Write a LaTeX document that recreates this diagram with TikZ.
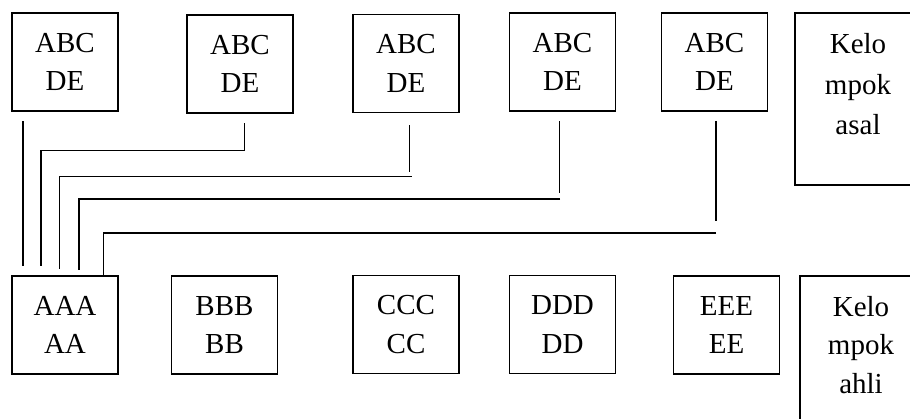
\documentclass[tikz,border=0pt]{standalone}
\usepackage{fontspec}
\setmainfont{Liberation Serif}
\usetikzlibrary{calc}
\begin{document}
\begin{tikzpicture}[x=1pt,y=-1pt,
  box/.style={draw, line width=1.6pt, minimum width=106pt, minimum height=98pt,
    inner sep=0pt, align=center, font=\fontsize{29}{38.5}\selectfont},
  tallbox/.style={draw, line width=1.6pt, minimum width=126pt, inner sep=0pt},
  txt/.style={inner sep=0pt, align=center, anchor=north},
  link/.style={line width=1.6pt}]
\clip (0,0) rectangle (910,419);
\fill[white] (0,0) rectangle (910,419);

% home groups (top row)
\node[box] (t1) at (65,62)    {ABC\\DE};
\node[box] (t2) at (240,64)   {ABC\\DE};
\node[box] (t3) at (406,63.5) {ABC\\DE};
\node[box] (t4) at (562.5,62) {ABC\\DE};
\node[box] (t5) at (714.5,62) {ABC\\DE};
\node[tallbox, minimum height=172pt] (asal) at (858,99) {};
\node[txt, font=\fontsize{29}{40.5}\selectfont] (asaltxt) at (858,33.5) {Kelo\\mpok\\asal};

% expert groups (bottom row)
\node[box] (b1) at (65,325)    {AAA\\AA};
\node[box] (b2) at (224.5,325) {BBB\\BB};
\node[box] (b3) at (406,324.5) {CCC\\CC};
\node[box] (b4) at (562.5,324.5) {DDD\\DD};
\node[box] (b5) at (726.5,325) {EEE\\EE};
\node[tallbox, minimum height=170pt] (ahli) at (863,361) {};
\node[txt, font=\fontsize{29}{38.5}\selectfont] (ahlitxt) at (861,296) {Kelo\\mpok\\ahli};

% connectors from each home group down to the first expert group
\coordinate (e1) at ($(b1.north west)+(12,-9.3)$);
\coordinate (e2) at ($(b1.north west)+(29.7,-9.3)$);
\coordinate (e3) at ($(b1.north west)+(48.3,-6)$);
\coordinate (e4) at ($(b1.north west)+(68,-5.3)$);
\coordinate (e5) at ($(b1.north west)+(92.3,0)$);

\coordinate (s1) at ($(t1.south west)+(12,9.7)$);
\draw[link] (s1) -- (e1);

\coordinate (s2) at ($(t2.south)+(4.3,9.7)$);
\draw[link] (s2) |- (e2 |- 0,150.7) -- (e2);

\coordinate (s3) at ($(t3.south)+(3.3,12)$);
\draw[link] (s3) -- ($(s3 |- 0,172)$);
\draw[link] ($(s3 |- 0,176.7)+(2.4,0)$) -- (e3 |- 0,176.7) -- (e3);

\coordinate (s4) at ($(t4.south)+(-3.2,9.7)$);
\draw[link] (s4) -- ($(s4 |- 0,192.7)$);
\draw[link] ($(s4 |- 0,199.3)+(0.7,0)$) -- (e4 |- 0,199.3) -- (e4);

\coordinate (s5) at ($(t5.south)+(1.2,9)$);
\draw[link] (s5) -- ($(s5 |- 0,221)$);
\draw[link] ($(s5 |- 0,233.3)+(0.3,0)$) -- (e5 |- 0,233.3) -- (e5);
\end{tikzpicture}
\end{document}
